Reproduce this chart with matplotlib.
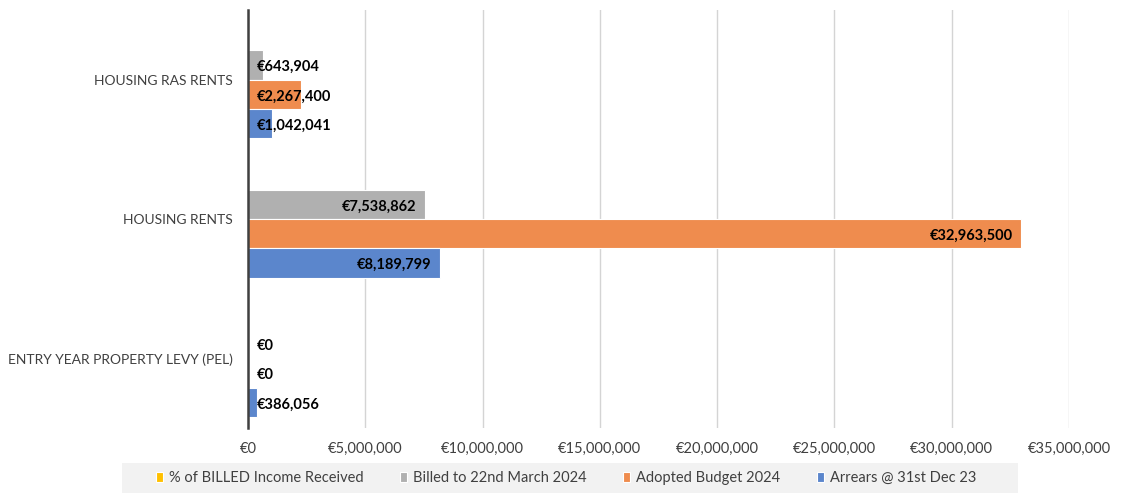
import numpy as np
import matplotlib.pyplot as plt
from matplotlib.patches import Rectangle
from matplotlib.ticker import FuncFormatter

categories = ["ENTRY YEAR PROPERTY LEVY (PEL)", "HOUSING RENTS", "HOUSING RAS RENTS"]
pct_received = [0, 0, 0]
billed = [0, 7538862, 643904]
budget = [0, 32963500, 2267400]
arrears = [386056, 8189799, 1042041]

series = [
    ("% of BILLED Income Received", pct_received, "#FFC000", False),
    ("Billed to 22nd March 2024", billed, "#B0B0B0", True),
    ("Adopted Budget 2024", budget, "#EF8C4E", True),
    ("Arrears @ 31st Dec 23", arrears, "#5B86CC", True),
]

plt.rcParams["font.family"] = ["Lato", "DejaVu Sans"]

fig = plt.figure(figsize=(11.25, 5), dpi=100)
ax = fig.add_axes([0.2204, 0.144, 0.7298, 0.836])

h = 0.21
y = np.arange(len(categories))
offsets = [1.5 * h, 0.5 * h, -0.5 * h, -1.5 * h]

for (name, vals, color, labelled), off in zip(series, offsets):
    ax.barh(y + off, vals, height=h, color=color, edgecolor="white",
            linewidth=0.8, label=name, zorder=3)
    if not labelled:
        continue
    for yy, v in zip(y + off, vals):
        txt = f"€{v:,.0f}"
        # small bars: label sits at the base, big ones: inside the end
        if v < 4e6:
            ax.annotate(txt, (0, yy), xytext=(6, -1.5), textcoords="offset points",
                        ha="left", va="center", fontsize=10.5, fontweight="bold",
                        color="black", zorder=4)
        else:
            ax.annotate(txt, (v, yy), xytext=(-6, -1.5), textcoords="offset points",
                        ha="right", va="center", fontsize=10.5, fontweight="bold",
                        color="black", zorder=4)

ax.set_xlim(0, 35e6)
ax.set_ylim(-0.5, 2.5)
ax.set_xticks(np.arange(0, 35e6 + 1, 5e6))
ax.xaxis.set_major_formatter(FuncFormatter(lambda x, p: f"€{x:,.0f}"))
ax.set_yticks(y)
ax.set_yticklabels(categories)
ax.tick_params(axis="both", length=0, labelsize=10.5, colors="#404040")
ax.tick_params(axis="y", pad=11, labelsize=10)
ax.tick_params(axis="x", pad=10)
ax.grid(axis="x", color="#D4D4D4", linewidth=1, zorder=0)
for s in ["top", "right", "bottom"]:
    ax.spines[s].set_visible(False)
ax.spines["left"].set_color("#404040")
ax.spines["left"].set_linewidth(1.8)
ax.spines["left"].set_zorder(5)

# legend band
fig.patches.append(Rectangle((122 / 1125, 7 / 500), 896 / 1125, 30 / 500,
                             transform=fig.transFigure, facecolor="#F2F2F2",
                             edgecolor="none", zorder=0))
leg = fig.legend(loc="center", bbox_to_anchor=(0.503, 0.044), ncol=4, frameon=False,
                 fontsize=10.5, handlelength=0.5, handleheight=0.7, handletextpad=0.4,
                 columnspacing=2.5)
for t in leg.get_texts():
    t.set_color("#404040")

fig.savefig("out.png", dpi=100)
